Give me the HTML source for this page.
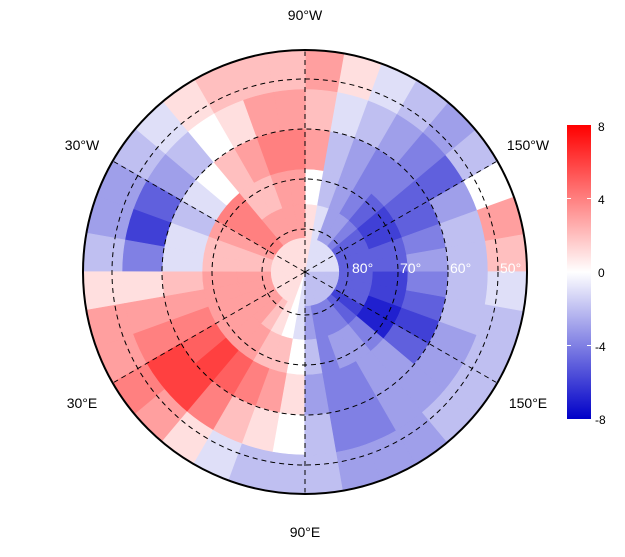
<!DOCTYPE html>
<html><head><meta charset="utf-8"><style>
body{margin:0;background:#fff;width:625px;height:552px;overflow:hidden;font-family:"Liberation Sans",sans-serif}
svg text{font-family:"Liberation Sans",sans-serif}
</style></head><body>
<svg id="chart" width="625" height="552" viewBox="0 0 625 552" xmlns="http://www.w3.org/2000/svg">
<defs>
<clipPath id="disk"><circle cx="305" cy="272" r="222"/></clipPath>
<linearGradient id="cbar" x1="0" y1="0" x2="0" y2="1">
<stop offset="0" stop-color="rgb(255,0,0)"/><stop offset="0.5" stop-color="#fff"/><stop offset="1" stop-color="rgb(0,0,200)"/>
</linearGradient>
</defs>
<g id="cells" clip-path="url(#disk)"></g>
<g id="grid"></g>
<circle cx="305" cy="272" r="222" fill="none" stroke="#000" stroke-width="2"/>
<text x="305" y="20" font-size="14" text-anchor="middle">90°W</text>
<text x="82" y="150" font-size="14" text-anchor="middle">30°W</text>
<text x="528" y="150" font-size="14" text-anchor="middle">150°W</text>
<text x="82" y="408" font-size="14" text-anchor="middle">30°E</text>
<text x="528" y="408" font-size="14" text-anchor="middle">150°E</text>
<text x="305" y="537" font-size="14" text-anchor="middle">90°E</text>
<g fill="#fff" font-size="14">
<text x="352" y="273">80°</text><text x="400" y="273">70°</text><text x="450" y="273">60°</text><text x="500" y="273">50°</text>
</g>
<g>
<rect x="567" y="125" width="24" height="294" fill="url(#cbar)"/>
<g stroke="#fff" stroke-width="1"><line x1="567" y1="198.5" x2="571" y2="198.5"/><line x1="587" y1="198.5" x2="591" y2="198.5"/><line x1="567" y1="345.5" x2="571" y2="345.5"/><line x1="587" y1="345.5" x2="591" y2="345.5"/></g>
<g font-size="12"><text x="598" y="131">8</text><text x="598" y="204">4</text><text x="598" y="277">0</text><text x="595" y="351">-4</text><text x="595" y="424">-8</text></g>
</g>
</svg>
<script>
// longitude sector centres (deg), 10 deg wide
const lonCenters=[-175,-165,-155,-145,-135,-125,-115,-105,-95,-85,-75,-65,-55,-45,-35,-25,-15,-5,5,15,25,35,45,55,65,75,85,95,105,115,125,135,145,155,165,175];
// latitude ring edges (deg)
const latEdges=[90,82,75,68,60,52,44];
// anomaly values per sector, innermost ring first
const values=[
[-1,-5,-5,-3,-2,2],[-1,-5,-5,-4,-2,3],[-1,-5,-6,-5,-3,0],[-1,-5,-6,-5,-5,-2],
[-1,-4,-5,-4,-4,-3],[-1,-3,-4,-4,-3,-2],[-1,-3,-3,-3,-2,-1],[-1,-1,-2,-2,-1,1],
[1,1,0,3,2,3],[1,3,3,4,3,2],[1,3,3,4,3,2],[1,3,2,3,1,2],
[1,3,2,2,0,1],[1,4,4,0,-2,-1],[1,4,4,-1,-3,-2],[1,3,3,-2,-5,-3],
[1,2,2,-1,-6,-3],[1,2,2,-1,-4,-2],[1,3,3,2,1,1],[1,3,3,3,3,3],
[1,3,3,4,4,3],[1,3,3,5,6,4],[1,3,3,6,6,3],[1,2,3,5,4,1],
[1,1,2,4,2,-1],[0,0,2,3,1,-2],[-1,-1,0,1,0,-2],[-2,-3,-2,-3,-2,-2],
[-2,-4,-4,-4,-4,-3],[-2,-4,-3,-4,-4,-3],[-2,-4,-3,-3,-3,-3],[-2,-5,-4,-3,-3,-2],
[-2,-6,-7,-5,-3,-2],[-2,-5,-7,-6,-3,-2],[-2,-5,-6,-5,-2,-2],[-2,-5,-6,-4,-2,-1]];
const gridLons=[-90,-30,-150,30,90,150];
const gridLats=[80,70,60,50];

const CX=305,CY=272;
function rOf(lat){
  if(lat>=80) return (90-lat)/10*43;
  return 43+(80-lat)*5;
}
function ang(lon){return (180+lon)*Math.PI/180;}
function pt(lon,lat){const r=rOf(lat),a=ang(lon);return [CX+r*Math.cos(a),CY-r*Math.sin(a)];}
function color(v){
  const t=Math.max(-1,Math.min(1,v/8));
  let r,g,b;
  if(t>=0){r=255;g=Math.round(255*(1-t));b=g;}
  else{const s=-t;r=Math.round(255*(1-s));g=r;b=Math.round(255-55*s);}
  return `rgb(${r},${g},${b})`;
}
const NS='http://www.w3.org/2000/svg';
const cells=document.getElementById('cells');
const half=(lonCenters[1]-lonCenters[0])/2+0.1;
lonCenters.forEach((lc,i)=>{
  for(let j=0;j<latEdges.length-1;j++){
    const l0=lc-half,l1=lc+half,a=latEdges[j],b=j==latEdges.length-2?30:latEdges[j+1];
    const p1=pt(l0,a),p2=pt(l1,a),p3=pt(l1,b),p4=pt(l0,b);
    const r0=rOf(a),r1=rOf(b);
    const d=`M${p1} A${r0},${r0} 0 0 0 ${p2} L${p3} A${r1},${r1} 0 0 1 ${p4} Z`;
    const el=document.createElementNS(NS,'path');
    el.setAttribute('d',d);
    el.setAttribute('fill',color(values[i][j]));
    el.setAttribute('stroke',color(values[i][j]));
    el.setAttribute('stroke-width','0.6');
    
    
    cells.appendChild(el);
  }
});
const grid=document.getElementById('grid');
gridLats.forEach(lat=>{
  const c=document.createElementNS(NS,'circle');
  c.setAttribute('cx',CX);c.setAttribute('cy',CY);c.setAttribute('r',rOf(lat));
  c.setAttribute('fill','none');c.setAttribute('stroke','#000');c.setAttribute('stroke-dasharray','5,4');
  
  
  grid.appendChild(c);
});
gridLons.forEach(lon=>{
  const p=pt(lon,44.5);
  const l=document.createElementNS(NS,'line');
  l.setAttribute('x1',CX);l.setAttribute('y1',CY);l.setAttribute('x2',p[0]);l.setAttribute('y2',p[1]);
  l.setAttribute('stroke','#000');l.setAttribute('stroke-dasharray','5,4');
  
  
  grid.appendChild(l);
});
</script>
</body></html>
